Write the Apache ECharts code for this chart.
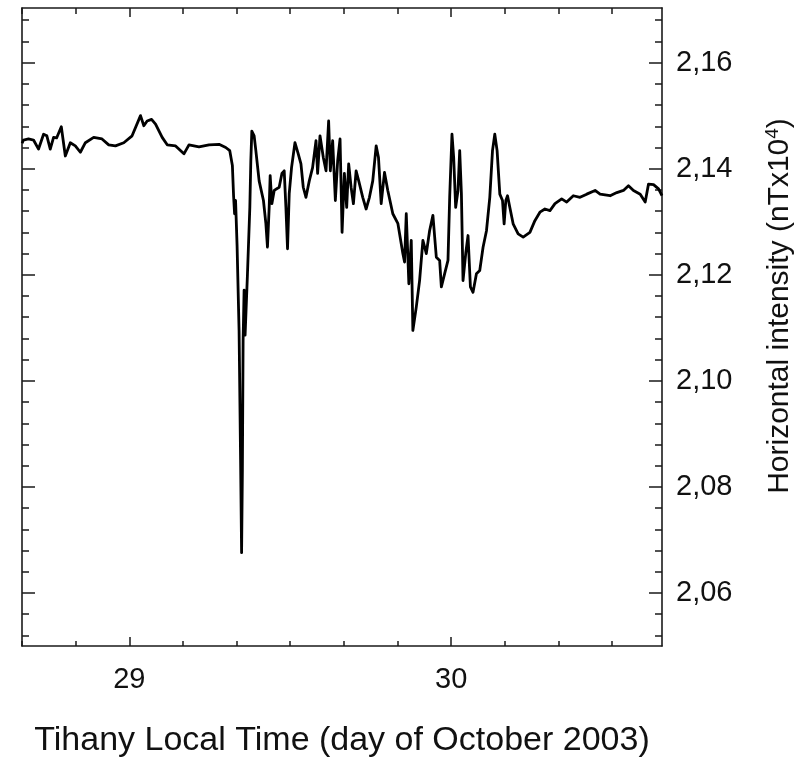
<!DOCTYPE html>
<html>
<head>
<meta charset="utf-8">
<script src="https://cdn.jsdelivr.net/npm/echarts@6/dist/echarts.min.js"></script>
<style>
html,body{margin:0;padding:0;background:#fff;}
#chart{width:810px;height:757px;}
</style>
</head>
<body>
<div id="chart"></div>
<script>
// Time in day of October 2003 (Tihany local time)
const times = [
28.667,28.6713,28.6869,28.7025,28.7181,28.7337,28.7439,28.7545,28.7648,28.7742,
28.7888,28.8013,28.8168,28.8324,28.8480,28.8636,28.8894,28.9153,28.9361,28.9570,
28.9829,29.0087,29.0349,29.0452,29.0555,29.0692,29.0816,29.1022,29.1178,29.1439,
29.1698,29.1854,29.2165,29.2477,29.2788,29.2997,29.3122,29.3203,29.3240,29.3271,
29.3302,29.3349,29.3411,29.3458,29.3489,29.3514,29.3536,29.3567,29.3598,29.3670,
29.3745,29.3776,29.3807,29.3879,29.3932,29.4034,29.4168,29.4243,29.4293,29.4346,
29.4377,29.4430,29.4502,29.4657,29.4742,29.4813,29.4866,29.4916,29.4969,29.5041,
29.5147,29.5249,29.5333,29.5405,29.5489,29.5592,29.5695,29.5801,29.5851,29.5925,
29.6028,29.6112,29.6193,29.6246,29.6318,29.6402,29.6474,29.6548,29.6611,29.6682,
29.6754,29.6816,29.6891,29.6963,29.7047,29.7128,29.7253,29.7358,29.7461,29.7564,
29.7670,29.7742,29.7826,29.7929,29.8031,29.8187,29.8343,29.8499,29.8552,29.8605,
29.8686,29.8760,29.8810,29.8916,29.9019,29.9122,29.9228,29.9330,29.9433,29.9539,
29.9642,29.9695,29.9798,29.9901,29.9954,30.0025,30.0078,30.0140,30.0212,30.0265,
30.0318,30.0368,30.0452,30.0524,30.0598,30.0679,30.0785,30.0888,30.0991,30.1097,
30.1200,30.1284,30.1355,30.1427,30.1511,30.1595,30.1645,30.1698,30.1751,30.1823,
30.1925,30.2081,30.2237,30.2446,30.2601,30.2757,30.2913,30.3069,30.3225,30.3433,
30.3589,30.3795,30.4003,30.4212,30.4471,30.4626,30.4938,30.5147,30.5352,30.5508,
30.5664,30.5873,30.6028,30.6131,30.6287,30.6443,30.6549
];
// Horizontal intensity (nT x 10^4)
const values = [
2.1448,2.1454,2.1456,2.1454,2.1437,2.1465,2.1462,2.1437,2.1459,2.1458,
2.1479,2.1424,2.1449,2.1443,2.1431,2.1449,2.1459,2.1456,2.1445,2.1443,
2.1449,2.1462,2.1500,2.1481,2.1490,2.1493,2.1484,2.1459,2.1445,2.1443,
2.1428,2.1445,2.1441,2.1445,2.1446,2.1440,2.1434,2.1406,2.1349,2.1315,
2.1340,2.1255,2.1095,2.0851,2.0676,2.0832,2.1076,2.1171,2.1086,2.1199,
2.1327,2.1415,2.1471,2.1462,2.1434,2.1377,2.1340,2.1297,2.1252,2.1327,
2.1387,2.1334,2.1359,2.1365,2.1391,2.1396,2.1327,2.1249,2.1353,2.1402,
2.1449,2.1428,2.1409,2.1365,2.1346,2.1377,2.1402,2.1453,2.1391,2.1462,
2.1421,2.1396,2.1490,2.1396,2.1453,2.1340,2.1415,2.1456,2.1280,2.1391,
2.1327,2.1409,2.1365,2.1334,2.1396,2.1377,2.1346,2.1324,2.1346,2.1377,
2.1443,2.1421,2.1334,2.1393,2.1359,2.1315,2.1297,2.1240,2.1224,2.1315,
2.1183,2.1265,2.1095,2.1139,2.1189,2.1265,2.1240,2.1283,2.1312,2.1233,
2.1227,2.1177,2.1202,2.1227,2.1346,2.1465,2.1421,2.1327,2.1359,2.1434,
2.1353,2.1189,2.1240,2.1274,2.1177,2.1167,2.1202,2.1208,2.1252,2.1283,
2.1346,2.1434,2.1465,2.1434,2.1352,2.1340,2.1296,2.1340,2.1349,2.1327,
2.1296,2.1277,2.1271,2.1280,2.1302,2.1318,2.1324,2.1321,2.1334,2.1343,
2.1337,2.1349,2.1346,2.1352,2.1359,2.1352,2.1349,2.1355,2.1359,2.1368,
2.1359,2.1352,2.1337,2.1371,2.1370,2.1362,2.1349
];
const xMajorTicks = [29, 30];
const xMinorTicks = [28.6667, 28.8333, 29.1667, 29.3333, 29.5, 29.6667, 29.8333, 30.1667, 30.3333, 30.5];
const yMajorTicks = [2.06, 2.08, 2.10, 2.12, 2.14, 2.16];
const yMinorTicks = [2.052, 2.056, 2.064, 2.068, 2.072, 2.076, 2.084, 2.088, 2.092, 2.096,
  2.104, 2.108, 2.112, 2.116, 2.124, 2.128, 2.132, 2.136, 2.144, 2.148, 2.152, 2.156, 2.164, 2.168];
const xTitle = 'Tihany Local Time (day of October 2003)';

const X_MIN = 28.6667, X_MAX = 30.655, Y_MIN = 2.05, Y_MAX = 2.1703;
const FRAME = '#1a1a1a';
const FONT = '"Liberation Sans", Arial, sans-serif';

const data = times.map((t, i) => [t, values[i]]);

function xAx(opts) {
  return Object.assign({
    type: 'value', min: X_MIN, max: X_MAX, gridIndex: 0,
    splitLine: { show: false }, minorTick: { show: false },
    axisLine: { show: false },
    axisLabel: { show: false },
    axisTick: { show: false }
  }, opts);
}
function yAx(opts) {
  return Object.assign({
    type: 'value', min: Y_MIN, max: Y_MAX, gridIndex: 0,
    splitLine: { show: false }, minorTick: { show: false },
    axisLine: { show: false },
    axisLabel: { show: false },
    axisTick: { show: false }
  }, opts);
}

const chart = echarts.init(document.getElementById('chart'), null, { renderer: 'canvas' });
chart.setOption({
  animation: false,
  backgroundColor: '#fff',
  grid: { left: 22, right: 148, top: 8, bottom: 111, containLabel: false, outerBoundsMode: 'none' },
  xAxis: [
    xAx({
      position: 'bottom',
      axisLine: { show: true, lineStyle: { color: FRAME, width: 1.6 } },
      axisTick: { show: true, inside: true, length: 9, customValues: xMajorTicks, lineStyle: { color: FRAME, width: 1.5 } },
      axisLabel: { show: true, customValues: xMajorTicks, margin: 19, fontSize: 29, color: '#111', fontFamily: FONT,
        formatter: v => String(Math.round(v)) },
      name: xTitle, nameLocation: 'middle', nameGap: 78,
      nameTextStyle: { fontSize: 34, color: '#111', fontFamily: FONT }
    }),
    xAx({
      position: 'bottom',
      axisTick: { show: true, inside: true, length: 5, customValues: xMinorTicks, lineStyle: { color: FRAME, width: 1.5 } }
    }),
    xAx({
      position: 'top',
      axisLine: { show: true, lineStyle: { color: FRAME, width: 1.6 } },
      axisTick: { show: true, inside: true, length: 9, customValues: xMajorTicks, lineStyle: { color: FRAME, width: 1.5 } }
    }),
    xAx({
      position: 'top',
      axisTick: { show: true, inside: true, length: 6, customValues: xMinorTicks, lineStyle: { color: FRAME, width: 1.5 } }
    })
  ],
  yAxis: [
    yAx({
      position: 'right',
      axisLine: { show: true, lineStyle: { color: FRAME, width: 1.6 } },
      axisTick: { show: true, inside: true, length: 13, customValues: yMajorTicks, lineStyle: { color: FRAME, width: 1.5 } },
      axisLabel: { show: true, customValues: yMajorTicks, margin: 14, fontSize: 29, color: '#111', fontFamily: FONT,
        formatter: v => v.toFixed(2).replace('.', ',') }
    }),
    yAx({
      position: 'right',
      axisTick: { show: true, inside: true, length: 7, customValues: yMinorTicks, lineStyle: { color: FRAME, width: 1.5 } }
    }),
    yAx({
      position: 'left',
      axisLine: { show: true, lineStyle: { color: FRAME, width: 1.6 } },
      axisTick: { show: true, inside: true, length: 13, customValues: yMajorTicks, lineStyle: { color: FRAME, width: 1.5 } }
    }),
    yAx({
      position: 'left',
      axisTick: { show: true, inside: true, length: 7, customValues: yMinorTicks, lineStyle: { color: FRAME, width: 1.5 } }
    })
  ],
  graphic: [{
    type: 'text',
    x: 780, y: 306,
    rotation: Math.PI / 2,
    style: {
      text: 'Horizontal intensity (nTx10{sup|4})',
      font: '30px "Liberation Sans", Arial, sans-serif',
      fill: '#111',
      align: 'center',
      verticalAlign: 'middle',
      rich: {
        sup: { fontSize: 19, fontFamily: FONT, fill: '#111', padding: [0, 0, 14, 0] }
      }
    }
  }],
  series: [{
    type: 'line',
    xAxisIndex: 0, yAxisIndex: 0,
    data: data,
    showSymbol: false,
    symbol: 'none',
    lineStyle: { color: '#000', width: 2.8, join: 'round' },
    silent: true
  }]
});
</script>
</body>
</html>
